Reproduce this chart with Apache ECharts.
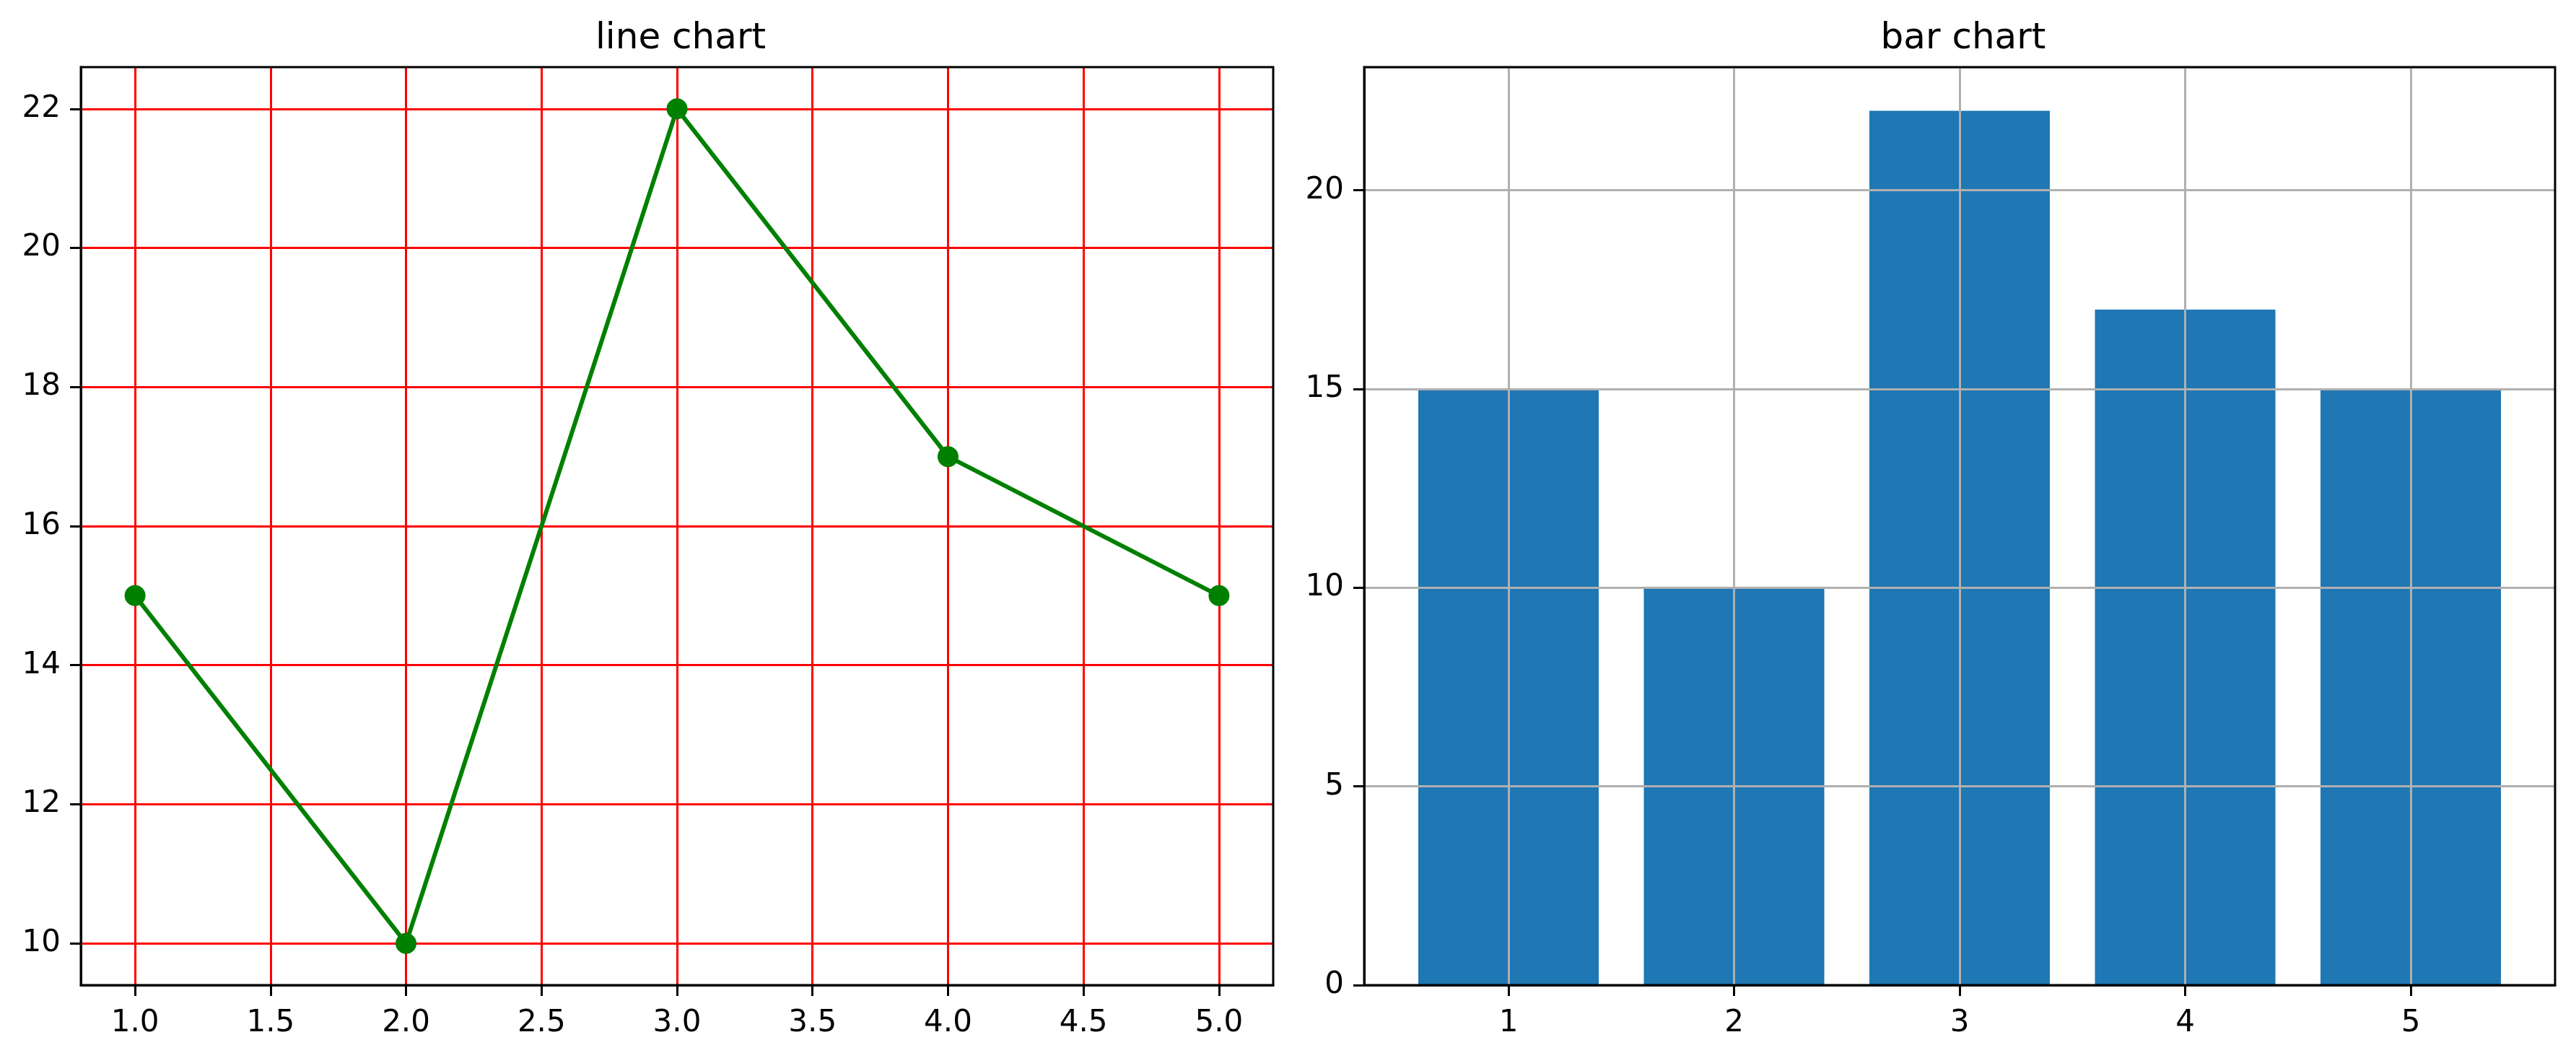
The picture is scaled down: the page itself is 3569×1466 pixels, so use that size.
<!DOCTYPE html>
<html><head><meta charset="utf-8">
<script src="https://cdn.jsdelivr.net/npm/echarts@6/dist/echarts.min.js"></script>
<style>html,body{margin:0;padding:0;background:#fff}#c{width:3569px;height:1466px}</style>
</head><body><div id="c"></div>
<script>
const xValues = [1, 2, 3, 4, 5];
const lineValues = [15, 10, 22, 17, 15];
const barValues = [15, 10, 22, 17, 15];
const lineXTicks = [1.0, 1.5, 2.0, 2.5, 3.0, 3.5, 4.0, 4.5, 5.0];
const lineYTicks = [10, 12, 14, 16, 18, 20, 22];
const barXTicks = [1, 2, 3, 4, 5];

const font = 'DejaVu Sans';
const chart = echarts.init(document.getElementById('c'), null, {renderer: 'canvas'});
const G1 = {left: 112, top: 93, width: 1652, height: 1272};
const G2 = {left: 1890, top: 93, width: 1650, height: 1272};
const lab = {color: '#000', fontFamily: font, fontSize: 42};
function axBase() {
  return {
    axisLine: {show: true, onZero: false, lineStyle: {color: '#000', width: 3}},
    axisTick: {show: true, inside: false, length: 15, lineStyle: {color: '#000', width: 3}},
  };
}
chart.setOption({
  animation: false,
  backgroundColor: '#fff',
  title: [
    {text: 'line chart', left: G1.left + G1.width / 2, top: 24, textAlign: 'center',
     textStyle: {fontFamily: font, fontSize: 50, fontWeight: 'normal', color: '#000'}},
    {text: 'bar chart', left: G2.left + G2.width / 2, top: 24, textAlign: 'center',
     textStyle: {fontFamily: font, fontSize: 50, fontWeight: 'normal', color: '#000'}}
  ],
  grid: [
    Object.assign({show: true, z: 8, borderColor: '#000', borderWidth: 3, backgroundColor: 'transparent'}, G1),
    Object.assign({show: true, z: 8, borderColor: '#000', borderWidth: 3, backgroundColor: 'transparent'}, G2)
  ],
  xAxis: [
    Object.assign(axBase(), {
      type: 'value', gridIndex: 0, min: 0.8, max: 5.2,
      axisTick: {show: true, length: 15, lineStyle: {color: '#000', width: 3}, customValues: lineXTicks},
      axisLabel: Object.assign({margin: 32, customValues: lineXTicks, formatter: v => v.toFixed(1)}, lab),
      splitLine: {show: true, lineStyle: {color: '#ff0000', width: 3}}
    }),
    Object.assign(axBase(), {
      type: 'value', gridIndex: 1, min: 0.36, max: 5.64, z: 5,
      axisTick: {show: true, length: 15, lineStyle: {color: '#000', width: 3}, customValues: barXTicks},
      axisLabel: Object.assign({margin: 32, customValues: barXTicks, formatter: v => String(v)}, lab),
      splitLine: {show: true, lineStyle: {color: '#b0b0b0', width: 3}}
    })
  ],
  yAxis: [
    Object.assign(axBase(), {
      type: 'value', gridIndex: 0, min: 9.4, max: 22.6,
      axisTick: {show: true, length: 15, lineStyle: {color: '#000', width: 3}, customValues: lineYTicks},
      axisLabel: Object.assign({margin: 28, customValues: lineYTicks}, lab),
      splitLine: {show: true, lineStyle: {color: '#ff0000', width: 3}}
    }),
    Object.assign(axBase(), {
      type: 'value', gridIndex: 1, min: 0, max: 23.1, interval: 5, z: 5,
      axisLabel: Object.assign({margin: 28, showMaxLabel: false, formatter: v => (v % 5 === 0 ? String(v) : '')}, lab),
      splitLine: {show: true, lineStyle: {color: '#b0b0b0', width: 3}}
    })
  ],
  series: [
    {type: 'line', xAxisIndex: 0, yAxisIndex: 0,
     data: xValues.map((x, i) => [x, lineValues[i]]),
     lineStyle: {color: '#008000', width: 6}, itemStyle: {color: '#008000'},
     symbol: 'circle', symbolSize: 29, showAllSymbol: true, z: 3},
    {type: 'bar', xAxisIndex: 1, yAxisIndex: 1,
     data: xValues.map((x, i) => [x, barValues[i]]),
     barWidth: '80%', itemStyle: {color: '#1f77b4'}, z: 1}
  ]
});
</script></body></html>
